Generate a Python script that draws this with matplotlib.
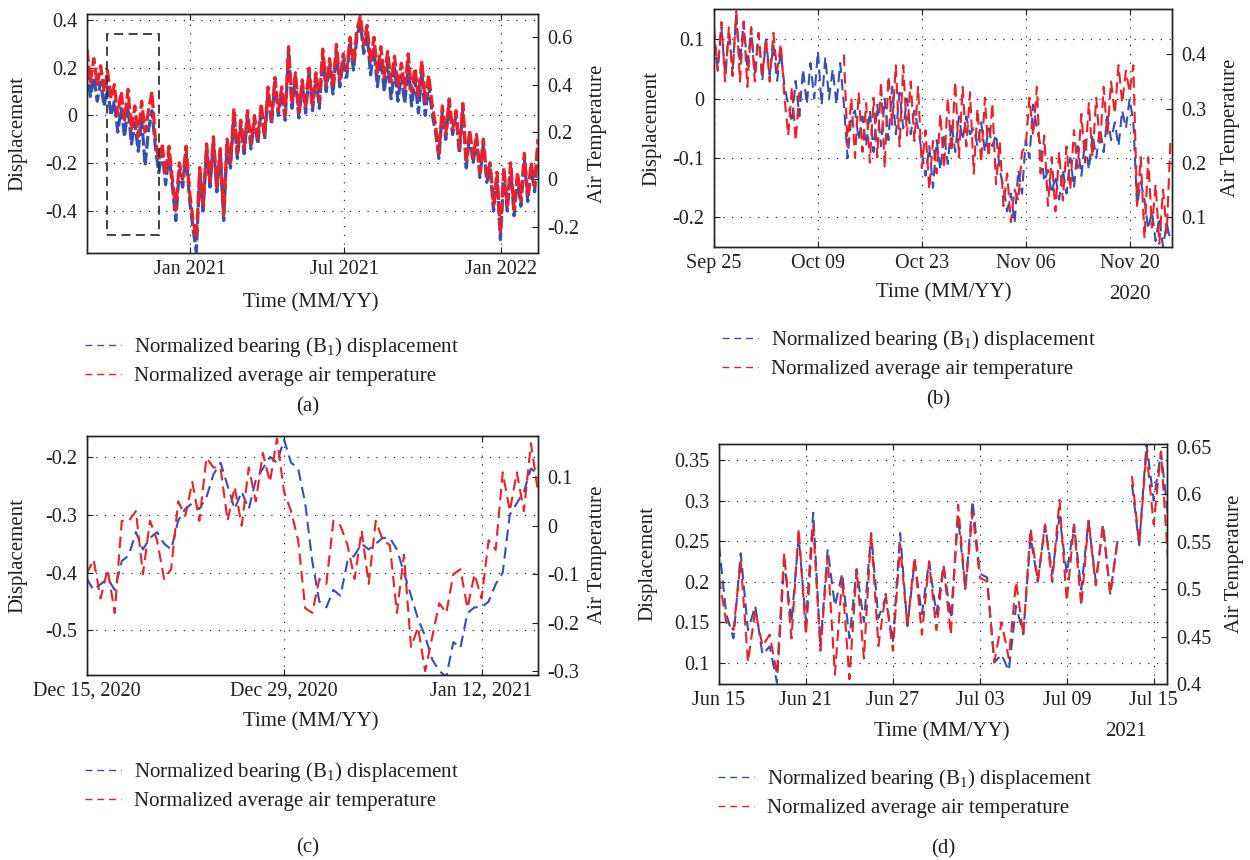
import numpy as np
import pandas as pd
import matplotlib
matplotlib.use('Agg')
import matplotlib.pyplot as plt
import matplotlib.dates as mdates
from matplotlib.lines import Line2D
from matplotlib.patches import Rectangle
from matplotlib.ticker import FuncFormatter

nan = np.nan

# (a) whole record, one value every 4 days from 2020-09-03
a_start = '2020-09-03'
a_disp = [0.20, 0.08, 0.16, 0.06, 0.14, 0.04, 0.12, 0.00, 0.06, -0.07,
          0.03, -0.09, 0.04, -0.12, -0.03, -0.15, -0.01, -0.21, -0.06, 0.02,
          -0.13, -0.24, -0.15, -0.29, -0.16, -0.30, -0.44, -0.23, -0.30, -0.16,
          -0.35, -0.47, -0.57, -0.24, -0.40, -0.14, -0.30, -0.11, -0.32, -0.16,
          -0.44, -0.12, -0.22, 0.01, -0.18, -0.04, -0.16, 0.00, -0.14, -0.02,
          -0.12, 0.03, -0.10, 0.10, -0.04, 0.14, 0.00, 0.10, -0.02, 0.27,
          0.03, 0.16, -0.01, 0.13, 0.01, 0.18, 0.02, 0.16, 0.03, 0.25,
          0.10, 0.21, 0.09, 0.27, 0.12, 0.23, 0.16, 0.30, 0.19, 0.33,
          0.39, 0.26, 0.34, 0.17, 0.28, 0.12, 0.24, 0.10, 0.22, 0.07,
          0.20, 0.06, 0.17, 0.05, 0.21, 0.04, 0.15, 0.01, 0.18, 0.00,
          0.13, 0.01, -0.07, -0.18, 0.02, -0.10, 0.05, -0.08, 0.00, -0.16,
          0.03, -0.22, -0.08, -0.20, -0.10, -0.26, -0.12, -0.28, -0.22, -0.40,
          -0.26, -0.52, -0.24, -0.40, -0.22, -0.42, -0.26, -0.38, -0.18, -0.36,
          -0.22, -0.32, -0.12]
a_temp = [0.55, 0.41, 0.51, 0.40, 0.48, 0.37, 0.46, 0.34, 0.40, 0.27,
          0.37, 0.25, 0.38, 0.21, 0.31, 0.18, 0.33, 0.20, 0.29, 0.37,
          0.17, 0.08, 0.15, 0.02, 0.14, 0.00, -0.13, 0.07, 0.00, 0.14,
          -0.05, -0.17, -0.25, 0.05, -0.11, 0.15, -0.01, 0.18, -0.03, 0.13,
          -0.15, 0.17, 0.07, 0.30, 0.11, 0.25, 0.13, 0.29, 0.15, 0.27,
          0.17, 0.32, 0.19, 0.39, 0.25, 0.43, 0.29, 0.39, 0.27, 0.56,
          0.32, 0.45, 0.28, 0.42, 0.30, 0.47, 0.31, 0.45, 0.33, 0.55,
          0.40, 0.51, 0.39, 0.57, 0.42, 0.53, 0.46, 0.60, 0.49, 0.63,
          0.69, 0.57, 0.65, 0.49, 0.60, 0.45, 0.56, 0.43, 0.54, 0.41,
          0.52, 0.39, 0.49, 0.38, 0.53, 0.37, 0.47, 0.35, 0.50, 0.33,
          0.44, 0.32, 0.23, 0.11, 0.31, 0.19, 0.34, 0.21, 0.29, 0.13,
          0.32, 0.07, 0.21, 0.09, 0.19, 0.03, 0.17, 0.01, 0.07, -0.11,
          0.03, -0.23, 0.05, -0.11, 0.07, -0.13, 0.03, -0.09, 0.11, -0.07,
          0.07, -0.03, 0.17]
# zoom window marked in (a)
box_from, box_to = '2020-09-26', '2020-11-26'
box_low, box_high = -0.5, 0.34

# (b) autumn 2020, 12 h steps
b_start = '2020-09-25'
b_disp = [0.10, 0.05, 0.12, 0.04, 0.11, 0.05, 0.14, 0.06, 0.13, 0.05,
          0.12, 0.04, 0.11, 0.03, 0.10, 0.04, 0.09, 0.03, 0.08, 0.02,
          -0.01, -0.04, 0.03, -0.03, 0.05, -0.01, 0.06, 0.00, 0.08, -0.01,
          0.07, 0.00, 0.05, -0.01, 0.06, -0.01, -0.10, -0.03, -0.02, -0.07,
          -0.03, -0.08, -0.02, -0.09, -0.01, -0.08, 0.00, -0.07, 0.02, -0.06,
          0.01, -0.05, 0.00, -0.06, -0.02, -0.05, -0.09, -0.13, -0.08, -0.15,
          -0.07, -0.12, -0.06, -0.11, -0.04, -0.09, -0.03, -0.07, -0.03, -0.06,
          -0.05, -0.08, -0.04, -0.09, -0.05, -0.08, -0.06, -0.12, -0.15, -0.19,
          -0.16, -0.21, -0.12, -0.16, -0.07, -0.10, -0.01, -0.05, -0.08, -0.14,
          -0.12, -0.16, -0.13, -0.17, -0.12, -0.16, -0.10, -0.15, -0.08, -0.13,
          -0.07, -0.12, -0.06, -0.10, -0.05, -0.09, -0.03, -0.07, -0.04, -0.08,
          -0.02, -0.05, 0.00, -0.04, -0.18, -0.14, -0.17, -0.22, -0.19, -0.24,
          -0.20, -0.25, -0.21, -0.24]
b_temp = [0.45, 0.37, 0.46, 0.35, 0.45, 0.36, 0.48, 0.35, 0.46, 0.34,
          0.45, 0.35, 0.44, 0.36, 0.43, 0.35, 0.44, 0.37, 0.42, 0.32,
          0.25, 0.34, 0.24, 0.33, nan, nan, nan, nan, nan, nan,
          nan, nan, nan, nan, nan, 0.40, 0.23, 0.32, 0.21, 0.33,
          0.22, 0.31, 0.20, 0.32, 0.21, 0.35, 0.19, 0.36, 0.27, 0.38,
          0.23, 0.38, 0.25, 0.35, 0.24, 0.34, 0.19, 0.26, 0.15, 0.24,
          0.18, 0.29, 0.19, 0.32, 0.22, 0.35, 0.21, 0.34, 0.23, 0.33,
          0.18, 0.30, 0.20, 0.32, 0.21, 0.31, 0.16, 0.24, 0.12, 0.18,
          0.09, 0.15, 0.13, 0.22, 0.23, 0.32, 0.25, 0.34, 0.18, 0.25,
          0.12, 0.21, 0.11, 0.22, 0.13, 0.23, 0.15, 0.26, 0.19, 0.29,
          0.20, 0.31, 0.21, 0.32, 0.23, 0.34, 0.25, 0.35, 0.29, 0.38,
          0.31, 0.37, 0.33, 0.38, 0.12, 0.21, 0.06, 0.21, 0.08, 0.16,
          0.05, 0.15, 0.07, 0.24]

# (c) winter 2020/21, 12 h steps
c_start = '2020-12-15'
c_disp = [-0.41, -0.43, -0.42, -0.41, -0.43, -0.38, -0.37, -0.33, -0.36, -0.34,
          -0.33, -0.35, -0.36, -0.31, -0.29, -0.28, -0.29, -0.27, -0.23, -0.21,
          -0.25, -0.29, -0.26, -0.29, -0.24, -0.22, -0.20, -0.21, -0.17, -0.21,
          -0.22, -0.28, -0.38, -0.45, -0.46, -0.43, -0.44, -0.38, -0.37, -0.35,
          -0.36, -0.35, -0.34, -0.34, -0.36, -0.40, -0.44, -0.48, -0.51, -0.55,
          -0.57, -0.58, -0.52, -0.53, -0.47, -0.46, -0.46, -0.45, -0.42, -0.40,
          -0.30, -0.28, -0.26, -0.22, -0.23]
c_temp = [-0.10, -0.07, -0.15, -0.09, -0.18, 0.01, 0.01, 0.03, -0.10, 0.01,
          -0.03, -0.11, -0.09, 0.05, 0.02, 0.09, 0.01, 0.14, 0.12, 0.12,
          0.01, 0.08, 0.00, 0.12, 0.05, 0.15, 0.09, 0.18, 0.07, 0.03,
          -0.03, -0.17, -0.18, -0.11, -0.12, 0.01, 0.00, -0.04, -0.11, -0.01,
          -0.12, 0.01, -0.03, -0.04, -0.18, -0.06, -0.25, -0.21, -0.30, -0.23,
          -0.16, -0.18, -0.10, -0.09, -0.17, -0.10, -0.15, -0.03, -0.05, 0.11,
          0.03, 0.11, 0.03, 0.17, 0.07]

# (d) summer 2021, 12 h steps
d_start = '2021-06-15'
d_disp = [0.245, 0.16, 0.13, 0.235, 0.14, 0.17, 0.11, 0.12, 0.075, 0.225,
          0.15, 0.255, 0.15, 0.285, 0.12, 0.24, 0.17, 0.21, 0.13, 0.215,
          0.15, 0.26, 0.155, 0.18, 0.125, 0.26, 0.145, 0.225, 0.16, 0.225,
          0.16, 0.22, 0.155, 0.28, 0.19, 0.30, 0.21, 0.205, 0.10, 0.11,
          0.09, 0.17, 0.135, 0.255, 0.20, 0.27, 0.21, 0.28, 0.21, 0.27,
          0.19, 0.275, 0.20, 0.27, 0.185, 0.25, nan, 0.32, 0.245, 0.37,
          0.30, 0.36, 0.28]
d_temp = [0.512, 0.465, 0.457, 0.529, 0.423, 0.478, 0.440, 0.452, 0.410, 0.538,
          0.448, 0.564, 0.452, 0.568, 0.435, 0.534, 0.410, 0.512, 0.405, 0.521,
          0.427, 0.559, 0.440, 0.495, 0.435, 0.547, 0.461, 0.534, 0.452, 0.529,
          0.457, 0.525, 0.452, 0.589, 0.500, 0.581, 0.512, 0.508, 0.423, 0.465,
          0.427, 0.508, 0.452, 0.564, 0.508, 0.568, 0.508, 0.594, 0.487, 0.568,
          0.482, 0.572, 0.504, 0.568, 0.494, 0.551, nan, 0.619, 0.547, 0.645,
          0.568, 0.645, 0.529]

BLUE = '#3450b4'
RED = '#ee1f26'
INK = '#231f20'

plt.rcParams['font.family'] = ['Liberation Serif', 'DejaVu Serif']
plt.rcParams['mathtext.fontset'] = 'custom'
plt.rcParams['mathtext.rm'] = 'Liberation Serif'
plt.rcParams['text.color'] = INK
plt.rcParams['axes.labelcolor'] = INK
plt.rcParams['xtick.color'] = INK
plt.rcParams['ytick.color'] = INK

fig = plt.figure(figsize=(12.5, 8.6), dpi=100)


def num(v, pos=None):
    return '%g' % round(v, 3)


def panel(rect, t, disp, temp, xlim, xticks, xfmt, ylim_l, yticks_l, ylim_r, yticks_r,
          ylab_x, tlab_x, xlab_xy, lw=1.5, dash=(0, (5.5, 3.0))):
    ax = fig.add_axes(rect)
    ax2 = ax.twinx()
    ax.plot(t, disp, color=BLUE, ls=dash, lw=lw)
    ax2.plot(t, temp, color=RED, ls=dash, lw=lw)

    ax.set_xlim(pd.Timestamp(xlim[0]), pd.Timestamp(xlim[1]))
    ax.set_xticks([pd.Timestamp(s) for s in xticks])
    ax.xaxis.set_major_formatter(mdates.DateFormatter(xfmt))
    ax.set_ylim(ylim_l)
    ax.set_yticks(yticks_l)
    ax.yaxis.set_major_formatter(FuncFormatter(num))
    ax2.set_ylim(ylim_r)
    ax2.set_yticks(yticks_r)
    ax2.yaxis.set_major_formatter(FuncFormatter(num))

    ax.grid(True, ls=(0, (1, 6)), color='#333333', lw=0.9)
    ax.tick_params(axis='x', direction='in', length=4, width=0.8, labelsize=14.5, pad=5, top=True)
    ax.tick_params(axis='y', direction='in', length=4, width=0.8, labelsize=14.5, pad=7)
    ax2.tick_params(axis='y', direction='in', length=4, width=0.8, labelsize=14.5, pad=7)
    for a in (ax, ax2):
        for s in a.spines.values():
            s.set_linewidth(1.0)
            s.set_color('#222222')

    ax.set_ylabel('Displacement', fontsize=15, ha='center', va='center')
    ax.yaxis.set_label_coords(ylab_x, 0.5)
    ax2.set_ylabel('Air Temperature', fontsize=15, ha='center', va='center')
    ax2.yaxis.set_label_coords(tlab_x, 0.5)
    ax.set_xlabel('Time (MM/YY)', fontsize=15, va='center')
    ax.xaxis.set_label_coords(*xlab_xy)
    return ax, ax2


def legend(x, y):
    h = [Line2D([], [], color=BLUE, ls=(0, (5, 3.5)), lw=1.0),
         Line2D([], [], color=RED, ls=(0, (5, 3.5)), lw=1.0)]
    fig.legend(h, [r'Normalized bearing (B$_\mathrm{1}$) displacement',
                   'Normalized average air temperature'],
               loc='upper left', bbox_to_anchor=(x, y), frameon=False, fontsize=15,
               handlelength=1.75, handletextpad=0.6, labelspacing=0.35,
               borderpad=0, borderaxespad=0)


# (a)
t_a = pd.date_range(a_start, periods=len(a_disp), freq='4D')
ax, ax2 = panel([0.0696, 0.7058, 0.3608, 0.2779], t_a, a_disp, a_temp,
                ('2020-09-03', '2022-02-13'), ['2021-01-01', '2021-07-01', '2022-01-01'], '%b %Y',
                (-0.576, 0.425), [-0.4, -0.2, 0, 0.2, 0.4],
                (-0.311, 0.698), [-0.2, 0, 0.2, 0.4, 0.6],
                -0.153, 1.131, (0.497, -0.209), lw=2.3, dash=(0, (4.0, 1.2)))
x0 = mdates.date2num(pd.Timestamp(box_from))
x1 = mdates.date2num(pd.Timestamp(box_to))
ax2.add_patch(Rectangle((x0, box_low), x1 - x0, box_high - box_low, transform=ax.transData,
                        fill=False, ec='#333333', lw=1.3, ls=(0, (5, 3)), zorder=5))
legend(0.068, 0.6105)
fig.text(0.2464, 0.5267, '(a)', fontsize=15, ha='center', va='center')

# (b)
t_b = pd.date_range(b_start, periods=len(b_disp), freq='12h')
panel([0.5712, 0.7128, 0.3664, 0.2767], t_b, b_disp, b_temp,
      ('2020-09-25', '2020-11-25 17:00'),
      ['2020-09-25', '2020-10-09', '2020-10-23', '2020-11-06', '2020-11-20'], '%b %d',
      (-0.25, 0.151), [-0.2, -0.1, 0, 0.1],
      (0.044, 0.484), [0.1, 0.2, 0.3, 0.4],
      -0.135, 1.127, (0.502, -0.193))
fig.text(0.904, 0.657, '2020', fontsize=15, ha='center', va='center')
legend(0.5776, 0.6186)
fig.text(0.7504, 0.5349, '(b)', fontsize=15, ha='center', va='center')

# (c)
t_c = pd.date_range(c_start, periods=len(c_disp), freq='12h')
panel([0.0692, 0.2151, 0.3612, 0.2785], t_c, c_disp, c_temp,
      ('2020-12-15', '2021-01-16'), ['2020-12-15', '2020-12-29', '2021-01-12'], '%b %d, %Y',
      (-0.577, -0.163), [-0.5, -0.4, -0.3, -0.2],
      (-0.308, 0.186), [-0.3, -0.2, -0.1, 0, 0.1],
      -0.152, 1.132, (0.497, -0.196))
legend(0.068, 0.1163)
fig.text(0.2464, 0.014, '(c)', fontsize=15, ha='center', va='center')

# (d)
t_d = pd.date_range(d_start, periods=len(d_disp), freq='12h')
panel([0.5752, 0.2047, 0.3584, 0.2791], t_d, d_disp, d_temp,
      ('2021-06-15', '2021-07-15 22:00'),
      ['2021-06-15', '2021-06-21', '2021-06-27', '2021-07-03', '2021-07-09', '2021-07-15'], '%b %d',
      (0.0736, 0.370), [0.1, 0.15, 0.2, 0.25, 0.3, 0.35],
      (0.4, 0.653), [0.4, 0.45, 0.5, 0.55, 0.6, 0.65],
      -0.158, 1.150, (0.498, -0.199))
fig.text(0.901, 0.149, '2021', fontsize=15, ha='center', va='center')
legend(0.5744, 0.1081)
fig.text(0.7544, 0.0128, '(d)', fontsize=15, ha='center', va='center')

fig.savefig('out.png', dpi=100)
